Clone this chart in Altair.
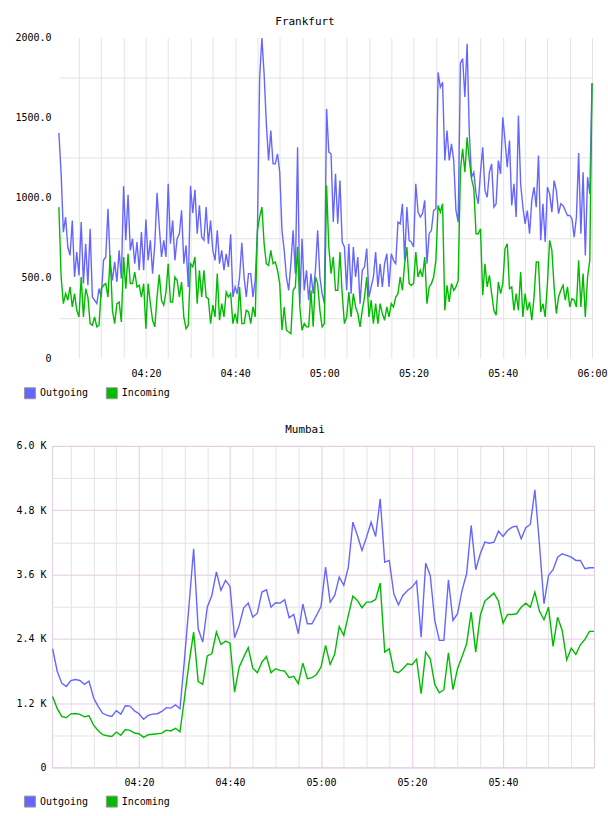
import altair as alt
import pandas as pd

# ---- Frankfurt: 30-second samples, 04:00:30 .. 06:00 ----
fra_outgoing = [
    1405, 1150, 786, 880, 693, 641, 859, 506, 662, 516,
    849, 465, 714, 454, 807, 381, 361, 340, 433, 381,
    610, 631, 932, 589, 485, 600, 475, 672, 496, 1073,
    735, 1019, 672, 745, 589, 724, 548, 787, 548, 865,
    610, 735, 527, 714, 1032, 818, 631, 735, 631, 1088,
    714, 859, 610, 745, 776, 922, 589, 703, 444, 1075,
    905, 1050, 776, 953, 755, 735, 942, 714, 859, 672,
    610, 797, 589, 672, 548, 651, 568, 772, 381, 444,
    402, 506, 720, 506, 381, 527, 527, 381, 485, 797,
    1752, 1997, 1773, 1461, 1233, 1420, 1212, 1212, 1275, 1160,
    797, 672, 506, 423, 589, 797, 527, 1316, 340, 745,
    423, 548, 361, 527, 402, 548, 797, 506, 402, 340,
    1555, 1285, 1275, 849, 1150, 838, 1108, 724, 693, 423,
    714, 402, 693, 506, 631, 340, 548, 568, 683, 381,
    444, 506, 662, 444, 589, 444, 589, 651, 444, 651,
    610, 589, 849, 838, 963, 610, 942, 735, 724, 693,
    1088, 911, 880, 901, 984, 589, 776, 797, 922, 932,
    1783, 1690, 1721, 1233, 1420, 1233, 1337, 1233, 922, 849,
    1840, 1870, 1630, 1962, 1400, 1129, 1160, 1025, 963, 1160,
    1316, 1046, 1004, 1160, 1212, 942, 963, 1233, 1150, 1503,
    1358, 1191, 1358, 953, 1088, 880, 1513, 1088, 942, 838,
    921, 776, 984, 1067, 942, 1264, 735, 963, 724, 1067,
    1025, 911, 1108, 1046, 901, 963, 953, 921, 890, 890,
    870, 755, 880, 1279, 776, 1160, 641, 1129, 1025, 1715,
]
fra_incoming = [
    942, 506, 340, 402, 361, 444, 319, 402, 298, 257,
    506, 257, 433, 381, 215, 205, 257, 195, 205, 433,
    454, 465, 381, 641, 298, 215, 340, 350, 226, 631,
    433, 651, 465, 465, 537, 444, 454, 381, 465, 184,
    465, 340, 236, 195, 381, 521, 361, 330, 412, 589,
    350, 350, 506, 485, 381, 475, 257, 184, 205, 589,
    570, 631, 340, 548, 381, 548, 381, 371, 215, 330,
    257, 527, 236, 340, 257, 412, 381, 402, 215, 278,
    215, 444, 215, 215, 298, 288, 215, 319, 257, 797,
    880, 942, 714, 589, 578, 672, 589, 600, 548, 465,
    174, 319, 174, 163, 153, 423, 444, 693, 319, 174,
    215, 195, 195, 423, 195, 506, 465, 298, 195, 215,
    1077, 693, 527, 631, 423, 423, 662, 402, 215, 257,
    412, 257, 402, 319, 278, 195, 298, 381, 506, 257,
    361, 215, 340, 215, 340, 278, 236, 319, 257, 340,
    319, 381, 402, 506, 423, 589, 693, 465, 454, 465,
    662, 506, 548, 506, 631, 340, 444, 465, 506, 610,
    953, 911, 963, 298, 454, 350, 465, 423, 444, 485,
    1171, 1306, 1160, 1378, 1233, 1118, 1057, 776, 776, 807,
    392, 589, 444, 516, 402, 298, 267, 475, 402, 465,
    683, 714, 433, 444, 298, 402, 298, 537, 257, 402,
    298, 350, 236, 381, 600, 600, 288, 340, 257, 465,
    735, 672, 444, 278, 381, 423, 454, 361, 444, 319,
    371, 361, 319, 610, 319, 527, 257, 506, 610, 1715,
]

# ---- Mumbai: 1-minute samples, 04:01 .. 06:00 ----
mum_outgoing = [
    2215, 1800, 1573, 1511, 1620, 1640, 1623, 1550, 1611, 1300,
    1140, 1010, 970, 951, 1060, 995, 1150, 1144, 1055, 1002,
    900, 970, 995, 1002, 1045, 1115, 1107, 1165, 1095, 2030,
    3040, 4081, 2588, 2338, 2991, 3209, 3650, 3303, 3490, 3378,
    2420, 2650, 2980, 3066, 2805, 2879, 3272, 3315, 2991, 3073,
    3066, 3129, 2793, 2855, 2495, 3050, 2681, 2681, 2836, 3004,
    3738, 3085, 3209, 3551, 3396, 3738, 4577, 4329, 4049, 4298,
    4577, 4310, 5014, 3831, 3863, 3241, 3036, 3209, 3303, 3365,
    3477, 2431, 3812, 3583, 2743, 2370, 2370, 3502, 2743, 2868,
    3303, 3614, 4516, 3689, 3988, 4204, 4185, 4204, 4409, 4310,
    4422, 4484, 4503, 4267, 4472, 4534, 5182, 4174, 3054, 3583,
    3689, 3924, 3988, 3956, 3924, 3863, 3863, 3708, 3727, 3727,
]
mum_incoming = [
    1325, 1100, 951, 927, 1000, 1005, 990, 945, 964, 790,
    690, 610, 590, 578, 660, 600, 705, 690, 642, 628,
    560, 610, 620, 628, 640, 695, 680, 730, 665, 1300,
    1950, 2525, 1600, 1549, 2080, 2121, 2525, 2295, 2357, 2320,
    1405, 1872, 2058, 2234, 1853, 1767, 1965, 2071, 1767, 1842,
    1810, 1797, 1674, 1698, 1562, 1946, 1655, 1674, 1735, 1872,
    2277, 1922, 2109, 2631, 2463, 2836, 3197, 3116, 2980, 3085,
    3085, 3135, 3439, 2152, 2214, 1797, 1767, 1842, 1935, 1916,
    2021, 1375, 2152, 2028, 1549, 1394, 1450, 2140, 1450, 1842,
    2071, 2308, 2898, 2152, 2836, 3104, 3178, 3253, 3104, 2693,
    2855, 2855, 2868, 2991, 3066, 2991, 3272, 2917, 2756, 2991,
    2258, 2805, 2556, 2009, 2226, 2109, 2289, 2388, 2538, 2538,
]

SERIES = ["Outgoing", "Incoming"]
COLORS = ["#6666ff", "#00bb00"]
FONT = "DejaVu Sans Mono"
GREY = "#e4e4e4"
PINK = "#e2cce2"


def frame(out_vals, in_vals, start, step):
    """Long table: minutes after 04:00, value, series."""
    rows = []
    for name, vals in zip(SERIES, (out_vals, in_vals)):
        for i, v in enumerate(vals):
            rows.append({"minute": start + i * step, "value": v, "series": name})
    return pd.DataFrame(rows)


fra = frame(fra_outgoing, fra_incoming, 0.5, 0.5)
mum = frame(mum_outgoing, mum_incoming, 1.0, 1.0)

time_label = ("datum.value % 20 === 0 ? "
              "timeFormat(datetime(2000, 0, 1, 4, datum.value), '%H:%M') : ''")

color_scale = alt.Scale(domain=SERIES, range=COLORS)
legend = alt.Legend(
    orient="none", legendX=-28, legendY=350, direction="horizontal",
    title=None, symbolType="square", symbolSize=121,
    symbolStrokeColor="#999999", symbolStrokeWidth=1, symbolOpacity=1,
    labelFont=FONT, labelFontSize=10, labelColor="#000000",
    labelOffset=4, columnPadding=15, padding=0,
)


def title(text):
    return alt.Title(text, font=FONT, fontSize=11, fontWeight="normal",
                     color="#000000", anchor="middle", frame="group", dx=-18,
                     offset=6)


def panel(data, x_axis, x_scale, y_axis, y_scale, name, height, stroke):
    base = alt.Chart(data)
    lines = base.mark_line(strokeWidth=1.4).encode(
        x=alt.X("minute:Q", scale=x_scale, axis=x_axis),
        y=alt.Y("value:Q", scale=y_scale, axis=y_axis),
        color=alt.Color("series:N", sort=SERIES, scale=color_scale, legend=None),
    )
    # filled squares only feed the legend; no rows are drawn
    keys = base.mark_square(filled=True, opacity=1).encode(
        x=alt.X("minute:Q", scale=x_scale, axis=x_axis),
        y=alt.Y("value:Q", scale=y_scale, axis=y_axis),
        color=alt.Color("series:N", sort=SERIES, scale=color_scale, legend=legend),
    ).transform_filter("false")
    return alt.layer(lines, keys).resolve_legend(color="independent").properties(
        width=543, height=height, title=title(name),
        view=alt.ViewBackground(stroke=stroke),
    )


# Frankfurt panel
fra_chart = panel(
    fra,
    alt.Axis(values=list(range(5, 121, 5)), labelExpr=time_label,
             title=None, ticks=False, domain=False, gridColor=GREY,
             labelFont=FONT, labelFontSize=10, labelColor="#000000",
             labelPadding=10, labelFlush=False, labelOverlap=False),
    alt.Scale(domain=[0.5, 120], range=[7, 541], nice=False, zero=False),
    alt.Axis(values=list(range(0, 2001, 250)),
             labelExpr="datum.value === 0 ? '0' : datum.value % 500 === 0 ? format(datum.value, '.1f') : ''",
             gridOpacity={"condition": {"test": "datum.value % 500 === 0", "value": 0}, "value": 1},
             title=None, ticks=False, domain=False, gridColor=GREY,
             labelFont=FONT, labelFontSize=10, labelColor="#000000",
             labelPadding=1, labelFlush=False, labelOverlap=False),
    alt.Scale(domain=[0, 2000], nice=False),
    "Frankfurt", 321, "transparent",
)

# Mumbai panel
mum_chart = panel(
    mum,
    alt.Axis(values=list(range(5, 116, 5)), labelExpr=time_label,
             title=None, ticks=False, domain=False,
             gridColor={"condition": {"test": "datum.value % 20 === 0", "value": PINK}, "value": GREY},
             labelFont=FONT, labelFontSize=10, labelColor="#000000",
             labelPadding=10, labelFlush=False, labelOverlap=False),
    alt.Scale(domain=[0.85, 120], nice=False, zero=False),
    alt.Axis(values=list(range(0, 6001, 600)),
             labelExpr="datum.value === 0 ? '0' : datum.value % 1200 === 0 ? format(datum.value / 1000, '.1f') + ' K' : ''",
             gridColor={"condition": {"test": "datum.value % 1200 === 0", "value": PINK}, "value": GREY},
             title=None, ticks=False, domain=False,
             labelFont=FONT, labelFontSize=10, labelColor="#000000",
             labelPadding=6, labelFlush=False, labelOverlap=False),
    alt.Scale(domain=[0, 6000], nice=False),
    "Mumbai", 322, PINK,
)

chart = alt.vconcat(fra_chart, mum_chart, spacing=88, bounds="flush").resolve_scale(
    color="independent"
).properties(
    padding={"left": 14, "top": 14, "right": 0, "bottom": 0},
    background="#ffffff",
)

chart.save("out.html", embed_options={"renderer": "svg", "actions": False})
